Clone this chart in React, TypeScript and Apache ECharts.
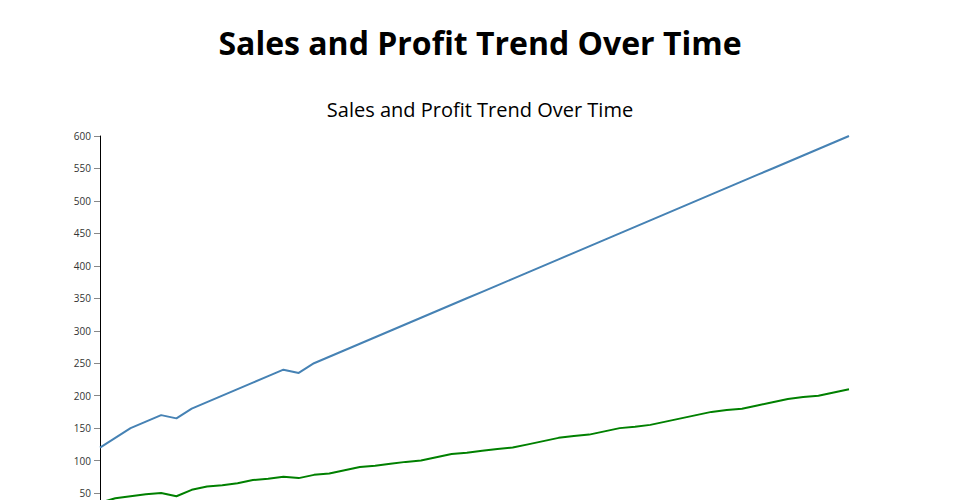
import React, { useEffect, useRef } from "react";
import * as echarts from "echarts";

const pageTitle = "Sales and Profit Trend Over Time";
const chartTitle = "Sales and Profit Trend Over Time";

const periods = [
  "1", "2", "3", "4", "5", "6", "7", "8", "9", "10",
  "11", "12", "13", "14", "15", "16", "17", "18", "19", "20",
  "21", "22", "23", "24", "25", "26", "27", "28", "29", "30",
  "31", "32", "33", "34", "35", "36", "37", "38", "39", "40",
  "41", "42", "43", "44", "45", "46", "47", "48", "49", "50",
];

const sales = [
  120, 135, 150, 160, 170, 165, 180, 190, 200, 210,
  220, 230, 240, 235, 250, 260, 270, 280, 290, 300,
  310, 320, 330, 340, 350, 360, 370, 380, 390, 400,
  410, 420, 430, 440, 450, 460, 470, 480, 490, 500,
  510, 520, 530, 540, 550, 560, 570, 580, 590, 600,
];

const profit = [
  35, 42, 45, 48, 50, 45, 55, 60, 62, 65,
  70, 72, 75, 73, 78, 80, 85, 90, 92, 95,
  98, 100, 105, 110, 112, 115, 118, 120, 125, 130,
  135, 138, 140, 145, 150, 152, 155, 160, 165, 170,
  175, 178, 180, 185, 190, 195, 198, 200, 205, 210,
];

const yTicks = { min: 0, max: 600, interval: 50 };

export default function App() {
  const ref = useRef<HTMLDivElement>(null);

  useEffect(() => {
    if (!ref.current) return;
    const chart = echarts.init(ref.current, undefined, { renderer: "svg" });
    const font = "'Open Sans', 'Noto Sans', sans-serif";
    chart.setOption({
      animation: false,
      backgroundColor: "#ffffff",
      title: [
        {
          text: pageTitle,
          left: "center",
          top: 21,
          textStyle: { fontSize: 32, fontWeight: "bold", color: "#000", fontFamily: font },
        },
        {
          text: chartTitle,
          left: "center",
          top: 94,
          textStyle: { fontSize: 20, fontWeight: "normal", color: "#000", fontFamily: font },
        },
      ],
      grid: { left: 100, right: 111, top: 136, bottom: 34.5, containLabel: false },
      xAxis: {
        type: "category",
        data: periods,
        boundaryGap: false,
        axisLine: { show: true, lineStyle: { color: "#000" } },
        axisTick: { show: false },
        axisLabel: { show: false },
        splitLine: { show: false },
      },
      yAxis: {
        type: "value",
        min: yTicks.min,
        max: yTicks.max,
        interval: yTicks.interval,
        axisLine: { show: true, lineStyle: { color: "#000", width: 1 } },
        axisTick: { show: true, length: 6, lineStyle: { color: "#888" } },
        axisLabel: {
          fontSize: 10,
          color: "#333",
          margin: 9,
          fontFamily: font,
          showMinLabel: false,
        },
        splitLine: { show: false },
      },
      series: [
        {
          name: "Sales",
          type: "line",
          data: sales,
          showSymbol: false,
          symbol: "none",
          lineStyle: { color: "#4682b4", width: 2 },
          itemStyle: { color: "#4682b4" },
        },
        {
          name: "Profit",
          type: "line",
          data: profit,
          showSymbol: false,
          symbol: "none",
          lineStyle: { color: "#008000", width: 2 },
          itemStyle: { color: "#008000" },
        },
      ],
    });
    return () => chart.dispose();
  }, []);

  return (
    <div
      ref={ref}
      style={{ position: "absolute", left: 0, top: 0, width: 960, height: 560 }}
    />
  );
}
